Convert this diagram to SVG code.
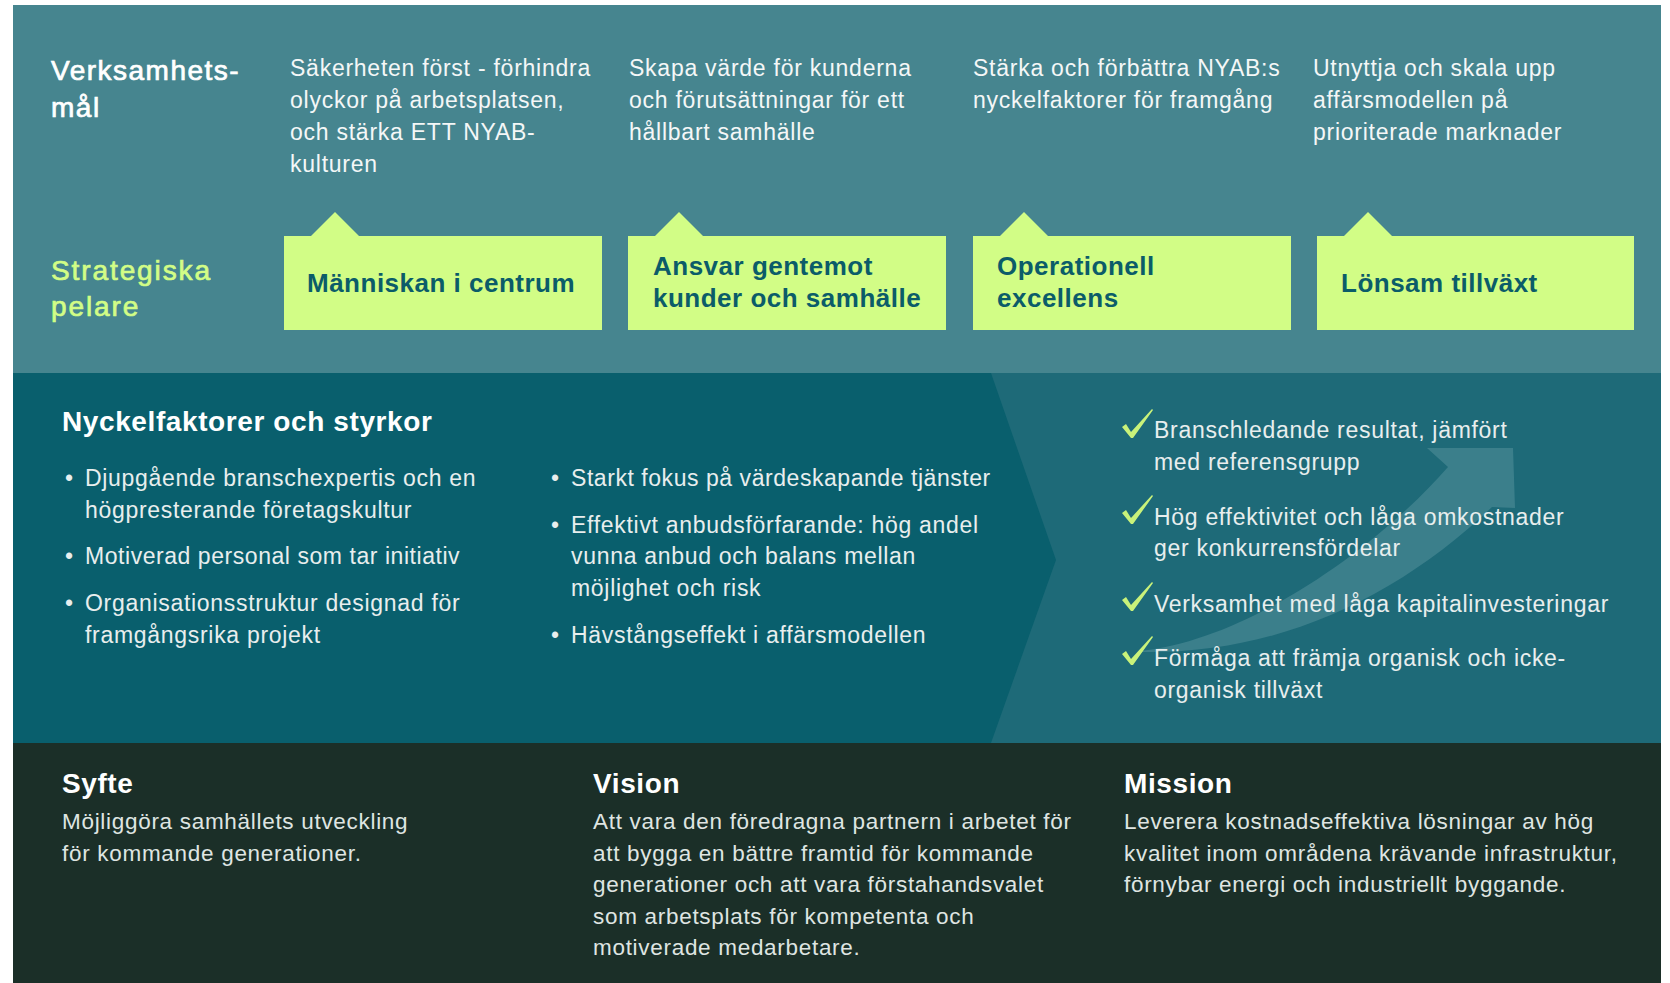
<svg xmlns="http://www.w3.org/2000/svg" width="1670" height="983" viewBox="0 0 1670 983">
<defs>
<style>
text{font-family:"Liberation Sans",Arial,sans-serif;}
.h{font-size:28px;font-weight:bold;fill:#ffffff;letter-spacing:0.6px;}
.hm{font-size:28px;fill:#ffffff;stroke:#ffffff;stroke-width:0.7px;letter-spacing:1.5px;}
.hl{font-size:28px;fill:#d2fd86;stroke:#d2fd86;stroke-width:0.7px;letter-spacing:1.9px;}
.g{font-size:23px;fill:#f4f7f7;letter-spacing:0.75px;}
.b{font-size:23px;fill:#e8eeee;letter-spacing:0.7px;}
.bs{font-size:23px;fill:#e8eeee;letter-spacing:0.55px;}
.bt{font-size:22.5px;fill:#dfe5e2;letter-spacing:0.7px;}
.p{font-size:26px;font-weight:bold;fill:#0b5c69;letter-spacing:0.5px;}
.box{fill:#d2fd86;}
.chk{fill:#c9f27a;}
</style>
<path id="ck" d="M -9 -10 L -5 -13 L 0 -5 L 21 -28 L 22 -27 L 2 1 L 0 1 Z"/>
</defs>
<rect x="0" y="0" width="1670" height="983" fill="#ffffff"/>
<g id="bands">
<rect x="13" y="5" width="1648" height="368" fill="#46858f"/>
<rect x="13" y="373" width="1648" height="370" fill="#1e6a78"/>
<polygon points="13,373 991,373 1056,560 991,743 13,743" fill="#095f6d"/>
<rect x="13" y="743" width="1648" height="240" fill="#1b2f28"/>
<path id="growth-arrow" d="M 1140 651 C 1250 640 1380 545 1448 467 L 1427 448 L 1513 448 L 1515 508 L 1492 507 C 1400 595 1280 655 1140 652 Z" fill="#3b7f8b"/>
</g>
<g id="label-verksamhetsmal">
<text class="hm" x="51" y="80">Verksamhets-</text>
<text class="hm" x="51" y="117">mål</text>
</g>
<g id="label-strategiska">
<text class="hl" x="51" y="280">Strategiska</text>
<text class="hl" x="51" y="316">pelare</text>
</g>
<g id="goal-1">
<text class="g" x="290" y="76">Säkerheten först - förhindra</text>
<text class="g" x="290" y="108">olyckor på arbetsplatsen,</text>
<text class="g" x="290" y="140">och stärka ETT NYAB-</text>
<text class="g" x="290" y="172">kulturen</text>
</g>
<g id="goal-2">
<text class="g" x="629" y="76">Skapa värde för kunderna</text>
<text class="g" x="629" y="108">och förutsättningar för ett</text>
<text class="g" x="629" y="140">hållbart samhälle</text>
</g>
<g id="goal-3">
<text class="g" x="973" y="76">Stärka och förbättra NYAB:s</text>
<text class="g" x="973" y="108">nyckelfaktorer för framgång</text>
</g>
<g id="goal-4">
<text class="g" x="1313" y="76">Utnyttja och skala upp</text>
<text class="g" x="1313" y="108">affärsmodellen på</text>
<text class="g" x="1313" y="140">prioriterade marknader</text>
</g>
<g id="pillar-1">
<path class="box" d="M 284 236 L 311 236 L 335 212 L 359 236 L 602 236 L 602 330 L 284 330 Z"/>
<text class="p" x="307" y="292">Människan i centrum</text>
</g>
<g id="pillar-2">
<path class="box" d="M 628 236 L 655 236 L 679 212 L 703 236 L 946 236 L 946 330 L 628 330 Z"/>
<text class="p" x="653" y="275">Ansvar gentemot</text>
<text class="p" x="653" y="307">kunder och samhälle</text>
</g>
<g id="pillar-3">
<path class="box" d="M 973 236 L 1000 236 L 1024 212 L 1048 236 L 1291 236 L 1291 330 L 973 330 Z"/>
<text class="p" x="997" y="275">Operationell</text>
<text class="p" x="997" y="307">excellens</text>
</g>
<g id="pillar-4">
<path class="box" d="M 1317 236 L 1344 236 L 1368 212 L 1392 236 L 1634 236 L 1634 330 L 1317 330 Z"/>
<text class="p" x="1341" y="292">Lönsam tillväxt</text>
</g>
<g id="nyckelfaktorer">
<text class="h" x="62" y="431">Nyckelfaktorer och styrkor</text>
<g id="strengths-left">
<text class="b" x="65" y="486">•</text>
<text class="b" x="85" y="486">Djupgående branschexpertis och en</text>
<text class="b" x="85" y="518">högpresterande företagskultur</text>
<text class="b" x="65" y="564">•</text>
<text class="bs" x="85" y="564">Motiverad personal som tar initiativ</text>
<text class="b" x="65" y="611">•</text>
<text class="b" x="85" y="611">Organisationsstruktur designad för</text>
<text class="b" x="85" y="643">framgångsrika projekt</text>
</g>
<g id="strengths-right">
<text class="b" x="551" y="486">•</text>
<text class="bs" x="571" y="486">Starkt fokus på värdeskapande tjänster</text>
<text class="b" x="551" y="533">•</text>
<text class="b" x="571" y="533">Effektivt anbudsförfarande: hög andel</text>
<text class="b" x="571" y="564">vunna anbud och balans mellan</text>
<text class="b" x="571" y="596">möjlighet och risk</text>
<text class="b" x="551" y="643">•</text>
<text class="b" x="571" y="643">Hävstångseffekt i affärsmodellen</text>
</g>
</g>
<g id="results">
<use href="#ck" class="chk" x="1131" y="437"/>
<text class="b" x="1154" y="438">Branschledande resultat, jämfört</text>
<text class="b" x="1154" y="470">med referensgrupp</text>
<use href="#ck" class="chk" x="1131" y="523"/>
<text class="b" x="1154" y="525">Hög effektivitet och låga omkostnader</text>
<text class="b" x="1154" y="556">ger konkurrensfördelar</text>
<use href="#ck" class="chk" x="1131" y="610"/>
<text class="b" x="1154" y="612">Verksamhet med låga kapitalinvesteringar</text>
<use href="#ck" class="chk" x="1131" y="664"/>
<text class="b" x="1154" y="666">Förmåga att främja organisk och icke-</text>
<text class="b" x="1154" y="698">organisk tillväxt</text>
</g>
<g id="syfte">
<text class="h" x="62" y="793">Syfte</text>
<text class="bt" x="62" y="829">Möjliggöra samhällets utveckling</text>
<text class="bt" x="62" y="861">för kommande generationer.</text>
</g>
<g id="vision">
<text class="h" x="593" y="793">Vision</text>
<text class="bt" x="593" y="829">Att vara den föredragna partnern i arbetet för</text>
<text class="bt" x="593" y="861">att bygga en bättre framtid för kommande</text>
<text class="bt" x="593" y="892">generationer och att vara förstahandsvalet</text>
<text class="bt" x="593" y="924">som arbetsplats för kompetenta och</text>
<text class="bt" x="593" y="955">motiverade medarbetare.</text>
</g>
<g id="mission">
<text class="h" x="1124" y="793">Mission</text>
<text class="bt" x="1124" y="829">Leverera kostnadseffektiva lösningar av hög</text>
<text class="bt" x="1124" y="861">kvalitet inom områdena krävande infrastruktur,</text>
<text class="bt" x="1124" y="892">förnybar energi och industriellt byggande.</text>
</g>
</svg>
